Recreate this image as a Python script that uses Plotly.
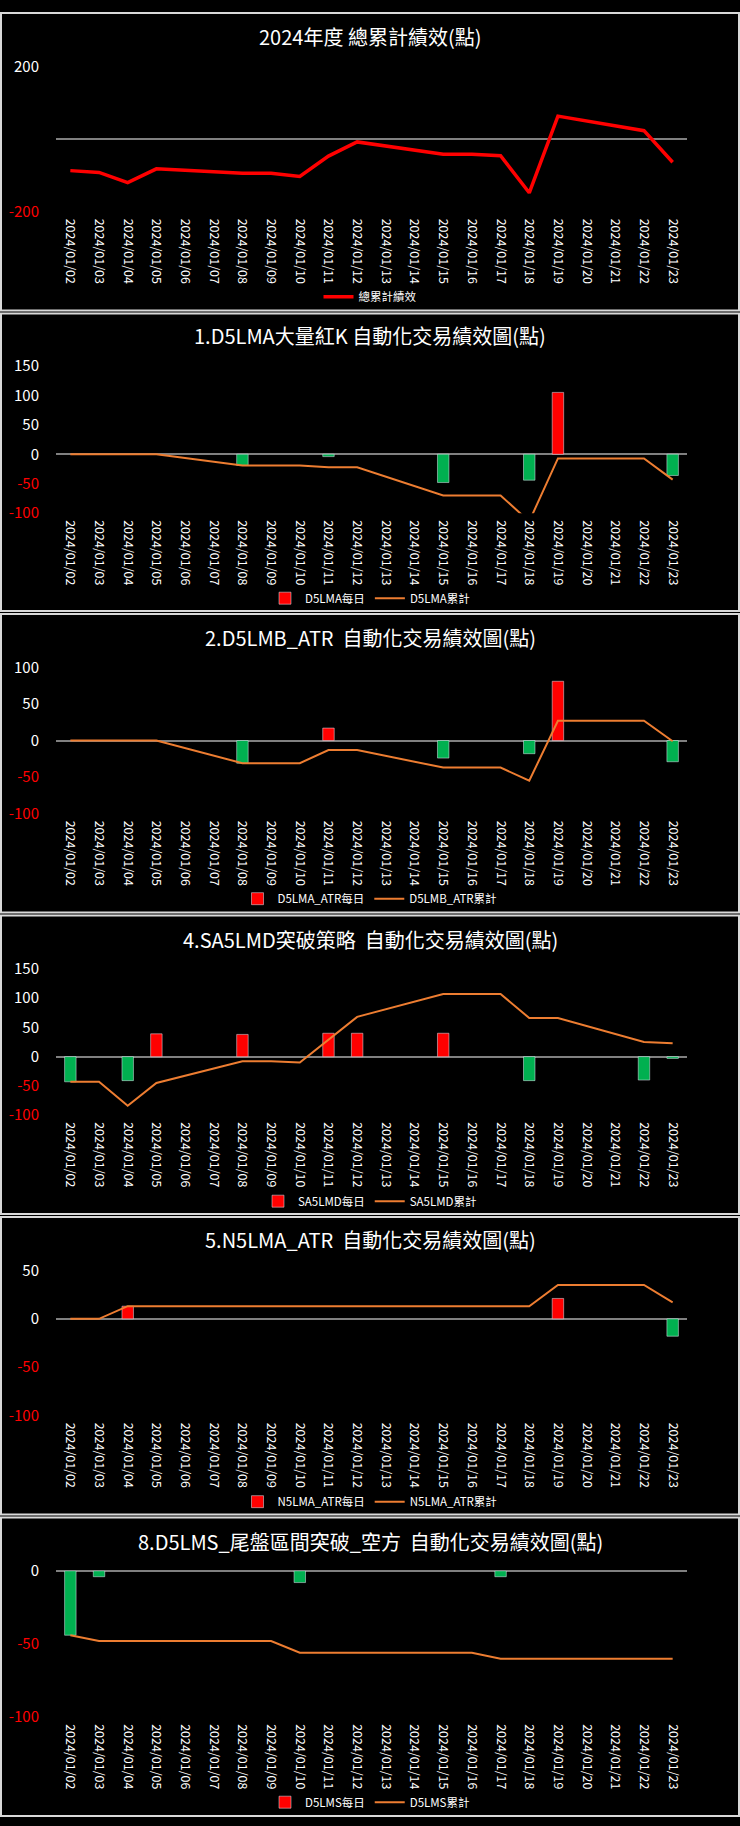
import plotly.graph_objs as go

W = 740
H = 1826

dates = ["2024/01/%02d" % d for d in range(2, 24)]

# None = 週末沒有資料 (線會直接連過去)
total_cum = [-87, -92, -120, -82, None, None, -94, -94, -103, -47, -8,
             None, None, -42, -42, -46, -148, 63, None, None, 23, -64]

d5lma_day = [0, 0, 0, 0, None, None, -19, 0, 0, -4, 0,
             None, None, -48, 0, 0, -44, 105, None, None, 0, -36]
d5lma_cum = [0, 0, 0, 0, None, None, -19, -19, -19, -22, -22,
             None, None, -70, -70, -70, -114, -7, None, None, -7, -43]

d5lmb_day = [0, 0, 0, 0, None, None, -31, 0, 0, 17, 0,
             None, None, -24, 0, 0, -18, 81, None, None, 0, -29]
d5lmb_cum = [0, 0, 0, 0, None, None, -31, -31, -31, -13, -13,
             None, None, -37, -37, -37, -55, 27, None, None, 27, -1]

sa5lmd_day = [-43, 0, -41, 39, None, None, 38, 0, 0, 40, 40,
              None, None, 40, 0, 0, -41, 0, None, None, -40, -3]
sa5lmd_cum = [-43, -43, -84, -45, None, None, -8, -8, -10, 29, 68,
              None, None, 107, 107, 107, 66, 66, None, None, 25, 23]

n5lma_day = [0, 0, 13, 0, None, None, 0, 0, 0, 0, 0,
             None, None, 0, 0, 0, 0, 21, None, None, 0, -18]
n5lma_cum = [0, 0, 13, 13, None, None, 13, 13, 13, 13, 13,
             None, None, 13, 13, 13, 13, 35, None, None, 35, 17]

d5lms_day = [-44, -4, 0, 0, None, None, 0, 0, -8, 0, 0,
             None, None, 0, 0, -4, 0, 0, None, None, 0, 0]
d5lms_cum = [-44, -48, -48, -48, None, None, -48, -48, -56, -56, -56,
             None, None, -56, -56, -60, -60, -60, None, None, -60, -60]

titles = ["2024年度 總累計績效(點)",
          "1.D5LMA大量紅K 自動化交易績效圖(點)",
          "2.D5LMB_ATR\u00a0 自動化交易績效圖(點)",
          "4.SA5LMD突破策略\u00a0 自動化交易績效圖(點)",
          "5.N5LMA_ATR\u00a0 自動化交易績效圖(點)",
          "8.D5LMS_尾盤區間突破_空方\u00a0 自動化交易績效圖(點)"]

bar_names = [None, "D5LMA每日", "D5LMA_ATR每日", "SA5LMD每日", "N5LMA_ATR每日", "D5LMS每日"]
line_names = ["總累計績效", "D5LMA累計", "D5LMB_ATR累計", "SA5LMD累計", "N5LMA_ATR累計", "D5LMS累計"]
daily = [None, d5lma_day, d5lmb_day, sa5lmd_day, n5lma_day, d5lms_day]
cum = [total_cum, d5lma_cum, d5lmb_cum, sa5lmd_cum, n5lma_cum, d5lms_cum]

y_ticks = [[-200, 200],
           [-100, -50, 0, 50, 100, 150],
           [-100, -50, 0, 50, 100],
           [-100, -50, 0, 50, 100, 150],
           [-100, -50, 0, 50],
           [-100, -50, 0]]

# 畫面位置 (px): 面板上下緣, 圖區上下緣, 標題 y, 圖例 y
panel_box = [(0, 303), (304, 607), (608, 912), (913, 1217), (1218, 1521), (1522, 1826)]
plot_box = [(55, 202), (358, 507), (663, 811), (968, 1116), (1273, 1420), (1577, 1725)]
title_y = [25, 327, 633, 938, 1242, 1547]
legend_y = [288, 593, 897, 1203, 1507, 1811]

RED = "#ff0000"
GREEN = "#00b050"
ORANGE = "#ed7d31"
FONT = "Noto Sans CJK TC, Noto Sans, sans-serif"


def py(px):
    return 1 - px / H


def tick_text(v):
    if v < 0:
        return '<span style="color:%s">%d</span>' % (RED, v)
    return str(v)


fig = go.Figure()
layout = {}
shapes = []
annotations = []

for i in range(6):
    n = "" if i == 0 else str(i + 1)
    xa = "x" + n
    ya = "y" + n
    leg = "legend" + n

    if daily[i] is not None:
        pos = [v if v is not None and v > 0 else None for v in daily[i]]
        neg = [v if v is not None and v < 0 else None for v in daily[i]]
        fig.add_trace(go.Bar(x=dates, y=pos, name=bar_names[i], marker_color=RED,
                             xaxis=xa, yaxis=ya, legend=leg))
        fig.add_trace(go.Bar(x=dates, y=neg, name=bar_names[i], marker_color=GREEN,
                             xaxis=xa, yaxis=ya, legend=leg, showlegend=False))
        line_color = ORANGE
        line_width = 2
    else:
        line_color = RED
        line_width = 3.5

    fig.add_trace(go.Scatter(x=dates, y=cum[i], name=line_names[i], mode="lines",
                             connectgaps=True, line=dict(color=line_color, width=line_width),
                             xaxis=xa, yaxis=ya, legend=leg, showlegend=True))

    top, bottom = plot_box[i]
    ticks = y_ticks[i]
    layout["xaxis" + n] = dict(
        domain=[56 / W, 687 / W], anchor=ya, type="category",
        range=[-0.5, len(dates) - 0.5], tickangle=90,
        showgrid=False, zeroline=False, showline=False, ticks="",
        ticklabelstandoff=6,
        tickfont=dict(family=FONT, size=12.5, color="white"))
    layout["yaxis" + n] = dict(
        domain=[py(bottom), py(top)], anchor=xa, range=[ticks[0], ticks[-1]],
        tickmode="array", tickvals=ticks, ticktext=[tick_text(v) for v in ticks],
        showgrid=False, showline=False, ticks="",
        zeroline=True, zerolinecolor="#808080", zerolinewidth=1.5,
        ticklabelstandoff=16,
        tickfont=dict(family=FONT, size=15, color="white"))
    layout[leg] = dict(
        orientation="h", x=0.5, xanchor="center", y=py(legend_y[i]), yanchor="middle",
        bgcolor="rgba(0,0,0,0)", font=dict(family=FONT, size=11.5, color="white"),
        traceorder="normal", itemwidth=30)

    annotations.append(dict(text=titles[i], xref="paper", yref="paper", x=0.5,
                            y=py(title_y[i]), xanchor="center", yanchor="middle",
                            showarrow=False, font=dict(family=FONT, size=20, color="white")))

    p0, p1 = panel_box[i]
    shapes.append(dict(type="rect", xref="paper", yref="paper",
                       x0=1 / W, x1=1 - 1 / W, y0=py(p1 - 1), y1=py(p0 + 1),
                       line=dict(color="#d9d9d9", width=2), layer="below"))

fig.update_layout(**layout)
fig.update_layout(
    width=W, height=H,
    margin=dict(l=0, r=0, t=0, b=0),
    paper_bgcolor="black", plot_bgcolor="black",
    barmode="relative", bargap=0.6,
    showlegend=True,
    annotations=annotations, shapes=shapes,
    font=dict(family=FONT, color="white"))

# 拿掉 body 預設的 8px 邊界, 不顯示工具列
fig.write_html("out.html", config={"displayModeBar": False},
               post_script="document.body.style.margin='0';")
